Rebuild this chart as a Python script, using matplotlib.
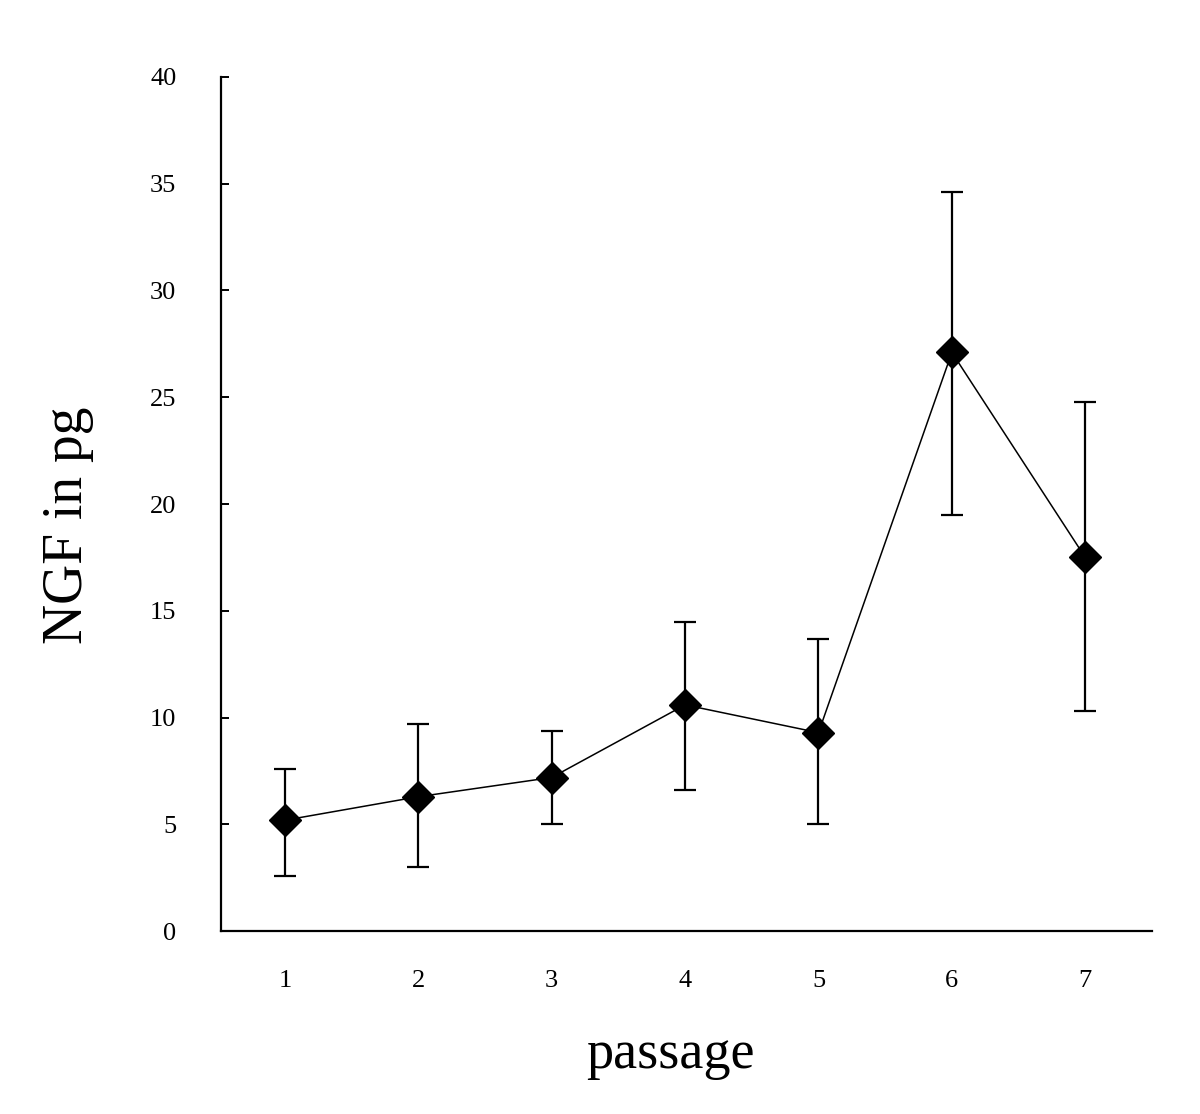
import matplotlib.pyplot as plt

# data
passage = [1, 2, 3, 4, 5, 6, 7]
ngf = [5.2, 6.3, 7.2, 10.6, 9.3, 27.1, 17.5]
err_low = [2.6, 3.3, 2.2, 4.0, 4.3, 7.6, 7.2]
err_high = [2.4, 3.4, 2.2, 3.9, 4.4, 7.5, 7.3]
y_ticks = [0, 5, 10, 15, 20, 25, 30, 35, 40]


def draw():
	fig = plt.figure(figsize=(12, 11.14), dpi=100)
	ax = fig.add_axes([0.184, 0.164, 0.776, 0.767])

	ax.errorbar(passage, ngf, yerr=[err_low, err_high], fmt='none',
		ecolor='black', elinewidth=1.6, capsize=8, capthick=1.6, zorder=2)
	ax.plot(passage, ngf, color='black', linewidth=1.1, marker='D',
		markersize=16, markerfacecolor='black', markeredgecolor='black', zorder=3)

	ax.set_xlim(0.52, 7.5)
	ax.set_ylim(0, 40)
	ax.set_xticks(passage)
	ax.set_yticks(y_ticks)

	for s in ['top', 'right']:
		ax.spines[s].set_visible(False)
	for s in ['left', 'bottom']:
		ax.spines[s].set_linewidth(1.6)

	ax.tick_params(axis='y', direction='in', length=6, width=1.4, pad=32)
	ax.tick_params(axis='x', length=0, pad=28)
	for lab in ax.get_xticklabels() + ax.get_yticklabels():
		lab.set_fontfamily('Liberation Serif')
		lab.set_fontsize(19)

	fig.text(670 / 1200, 1 - 1055 / 1114, 'passage', family='Liberation Serif',
		fontsize=39, ha='center', va='center')
	fig.text(68 / 1200, 1 - 525 / 1114, 'NGF in pg', family='Liberation Serif',
		fontsize=40, rotation=90, ha='center', va='center')

	fig.savefig('out.png', dpi=100)


if __name__ == '__main__':
	draw()
